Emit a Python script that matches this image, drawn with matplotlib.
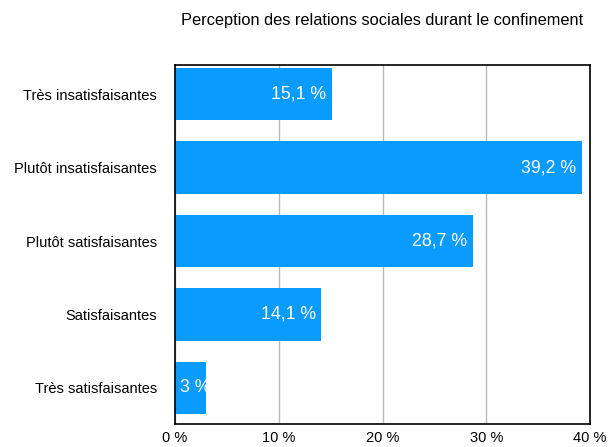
import matplotlib
matplotlib.use("Agg")
import matplotlib.pyplot as plt

categories = ["Très insatisfaisantes", "Plutôt insatisfaisantes", "Plutôt satisfaisantes",
              "Satisfaisantes", "Très satisfaisantes"]
values = [15.1, 39.2, 28.7, 14.1, 3.0]
value_labels = ["15,1 %", "39,2 %", "28,7 %", "14,1 %", "3 %"]
xticks = [0, 10, 20, 30, 40]
xtick_labels = ["0 %", "10 %", "20 %", "30 %", "40 %"]
title = "Perception des relations sociales durant le confinement"

plt.rcParams['font.family'] = ['Liberation Sans', 'DejaVu Sans']

fig = plt.figure(figsize=(6.09, 4.47), dpi=100)
W, H = 609, 447
ax = fig.add_axes([175 / W, 1 - 424 / H, (590 - 175) / W, (424 - 65) / H])

ypos = list(range(len(categories)))
bars = ax.barh(ypos, values, height=0.71, color='#0A9BFF', zorder=2)
for y, v, lab, bar in zip(ypos, values, value_labels, bars):
    if v < 5:
        t = ax.text(0.5, y, lab, ha='left', va='center', color='white', fontsize=12.8, zorder=3)
        t.set_clip_path(bar)
    else:
        ax.text(v - 0.5, y, lab, ha='right', va='center', color='white', fontsize=12.8, zorder=3)

ax.set_xlim(0, 40)
ax.set_ylim(4.49, -0.395)
ax.set_xticks(xticks)
ax.set_xticklabels(xtick_labels, fontsize=10.5)
ax.set_yticks(ypos)
ax.set_yticklabels(categories, fontsize=10.5)
ax.tick_params(axis='both', length=0)
ax.tick_params(axis='y', pad=13)
ax.tick_params(axis='x', pad=5)
ax.grid(axis='x', color='#b8b8b8', linewidth=1, zorder=1)
for s in ax.spines.values():
    s.set_color('black')
    s.set_linewidth(1.2)

fig.text((175 + 590) / 2 / W, 1 - 20 / H, title, ha='center', va='center', fontsize=11.8)

fig.savefig("out.png", dpi=100)
